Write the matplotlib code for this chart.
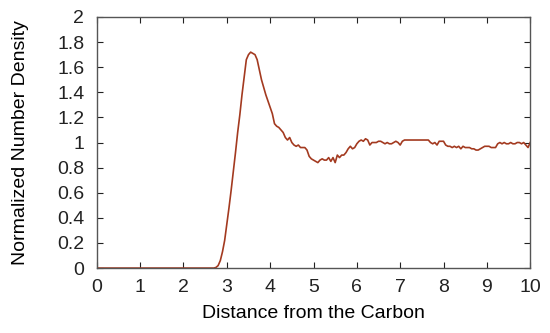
import matplotlib
matplotlib.use("Agg")
import matplotlib.pyplot as plt

plt.rcParams['font.family'] = ['Liberation Sans', 'DejaVu Sans']

# distance (x) and normalized number density (y)
dist = [0.0, 1.0, 2.0, 2.6, 2.7, 2.75, 2.8, 2.85, 2.9, 2.95, 3.0, 3.05, 3.1, 3.15,
        3.2, 3.25, 3.3, 3.35, 3.4, 3.45, 3.5, 3.55, 3.6, 3.65, 3.7, 3.75, 3.8,
        3.85, 3.9, 3.95, 4.0, 4.05, 4.1, 4.15, 4.2, 4.25, 4.3, 4.35, 4.4, 4.45,
        4.5, 4.55, 4.6, 4.65, 4.7, 4.75, 4.8, 4.85, 4.9, 4.95, 5.0, 5.05, 5.1,
        5.15, 5.2, 5.25, 5.3, 5.35, 5.4, 5.45, 5.5, 5.55, 5.6, 5.65, 5.7, 5.75,
        5.8, 5.85, 5.9, 5.95, 6.0, 6.05, 6.1, 6.15, 6.2, 6.25, 6.3, 6.35, 6.4,
        6.45, 6.5, 6.55, 6.6, 6.65, 6.7, 6.75, 6.8, 6.85, 6.9, 6.95, 7.0, 7.05,
        7.1, 7.15, 7.2, 7.25, 7.3, 7.4, 7.5, 7.6, 7.65, 7.7, 7.75, 7.8, 7.85,
        7.9, 7.95, 8.0, 8.05, 8.1, 8.15, 8.2, 8.25, 8.3, 8.35, 8.4, 8.45, 8.5,
        8.55, 8.6, 8.65, 8.7, 8.75, 8.8, 8.85, 8.9, 8.95, 9.0, 9.05, 9.1, 9.15,
        9.2, 9.25, 9.3, 9.35, 9.4, 9.45, 9.5, 9.55, 9.6, 9.65, 9.7, 9.75, 9.8,
        9.85, 9.9, 9.95, 10.0]
density = [0.0, 0.0, 0.0, 0.0, 0.0, 0.005, 0.02, 0.06, 0.13, 0.22, 0.35, 0.48, 0.62, 0.77,
           0.92, 1.08, 1.22, 1.38, 1.52, 1.66, 1.70, 1.72, 1.71, 1.70, 1.66, 1.58, 1.50,
           1.44, 1.38, 1.33, 1.28, 1.23, 1.15, 1.13, 1.12, 1.10, 1.08, 1.04, 1.02, 1.04,
           1.00, 0.98, 0.97, 0.98, 0.96, 0.96, 0.96, 0.94, 0.89, 0.87, 0.86, 0.85, 0.84,
           0.86, 0.87, 0.86, 0.86, 0.88, 0.85, 0.88, 0.84, 0.90, 0.88, 0.90, 0.90, 0.92,
           0.95, 0.97, 0.95, 0.96, 0.99, 1.01, 1.02, 1.01, 1.03, 1.02, 0.98, 1.00, 1.00,
           1.00, 1.01, 1.01, 1.00, 0.99, 1.00, 0.99, 0.99, 1.00, 1.01, 1.00, 0.98, 1.01,
           1.02, 1.02, 1.02, 1.02, 1.02, 1.02, 1.02, 1.02, 1.02, 1.00, 0.99, 1.00, 0.98,
           1.01, 1.01, 1.01, 0.98, 0.97, 0.97, 0.96, 0.97, 0.96, 0.97, 0.95, 0.97, 0.96,
           0.96, 0.96, 0.95, 0.95, 0.94, 0.94, 0.95, 0.96, 0.97, 0.97, 0.97, 0.96, 0.96,
           0.96, 0.99, 1.00, 0.99, 1.00, 0.99, 0.99, 1.00, 0.99, 0.99, 1.00, 1.00, 0.99,
           1.00, 0.98, 0.96, 1.00]

x_ticks = [0, 1, 2, 3, 4, 5, 6, 7, 8, 9, 10]
y_ticks = [0, 0.2, 0.4, 0.6, 0.8, 1, 1.2, 1.4, 1.6, 1.8, 2]
y_labels = ['0', '0.2', '0.4', '0.6', '0.8', '1', '1.2', '1.4', '1.6', '1.8', '2']

fig = plt.figure(figsize=(5.5, 3.33), dpi=100)
ax = fig.add_axes([0.176, 0.195, 0.788, 0.754])

ax.plot(dist, density, color='#a33a20', lw=1.2)

ax.set_xlim(0, 10)
ax.set_ylim(0, 2)
ax.set_xticks(x_ticks)
ax.set_xticklabels([str(t) for t in x_ticks])
ax.set_yticks(y_ticks)
ax.set_yticklabels(y_labels)
ax.tick_params(direction='in', top=True, right=True, length=4, width=0.8,
               labelsize=14, colors='#222222')
ax.tick_params(axis='x', pad=8)
ax.tick_params(axis='y', pad=9)
for s in ax.spines.values():
    s.set_color('#555555')
    s.set_linewidth(1.0)

ax.set_xlabel('Distance from the Carbon', fontsize=14, labelpad=6)
ax.set_ylabel('Normalized Number Density', fontsize=14, labelpad=20)

fig.savefig('out.png', dpi=100)
